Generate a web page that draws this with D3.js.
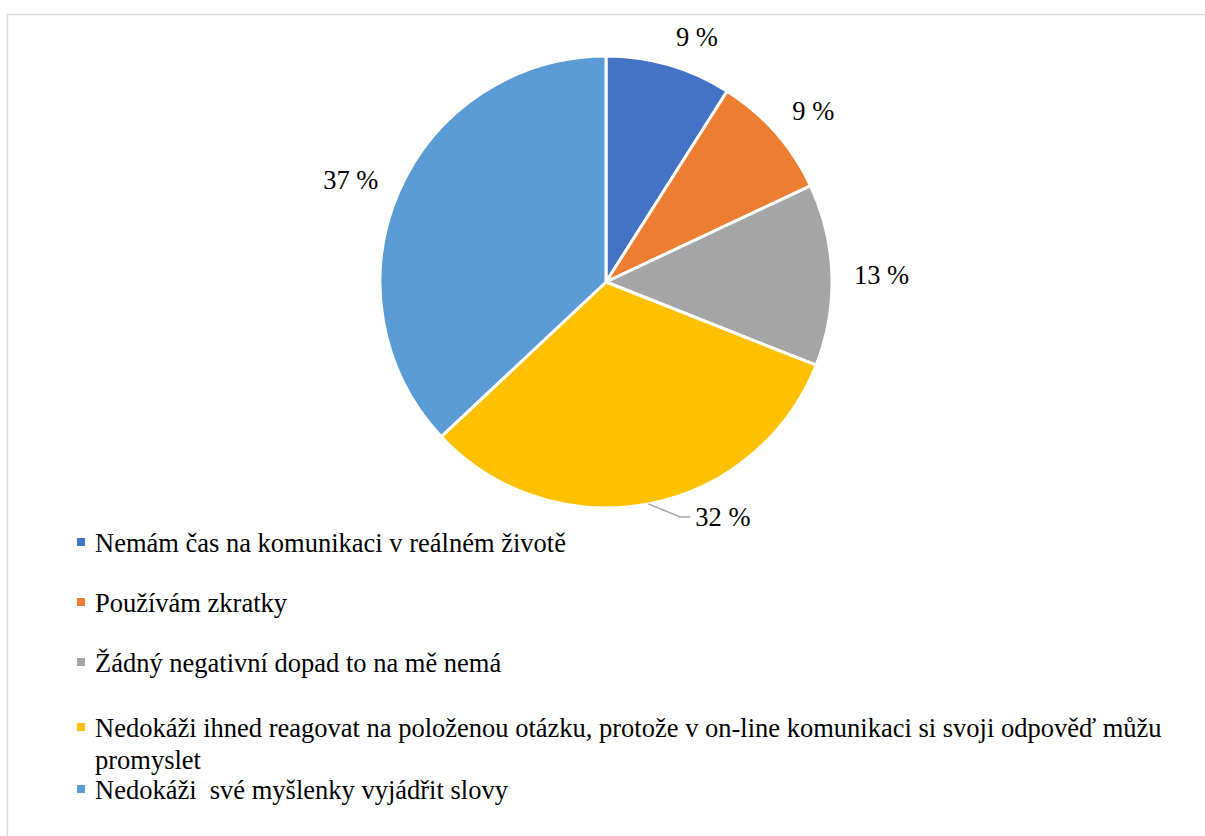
<!DOCTYPE html>
<html><head><meta charset="utf-8">
<script src="https://cdn.jsdelivr.net/npm/d3@7"></script>
<style>
html,body{margin:0;padding:0;background:#fff;}
text{font-family:"Liberation Serif","Times New Roman",serif;fill:#000;}
</style></head>
<body>
<svg id="chart" width="1205" height="836"></svg>
<script>
const categories = [
  "Nemám čas na komunikaci v reálném životě",
  "Používám zkratky",
  "Žádný negativní dopad to na mě nemá",
  "Nedokáži ihned reagovat na položenou otázku, protože v on-line komunikaci si svoji odpověď můžu promyslet",
  "Nedokáži  své myšlenky vyjádřit slovy"
];
const values = [9, 9, 13, 32, 37];
const valueLabels = ["9 %", "9 %", "13 %", "32 %", "37 %"];
const colors = ["#4472C4", "#ED7D31", "#A5A5A5", "#FFC000", "#5B9BD5"];

const svg = d3.select("#chart");
const cx = 606, cy = 282, R = 226, labelR = 247;
const fontSize = 26.5;

// outer frame
svg.append("rect").attr("x", 7.5).attr("y", 14.5).attr("width", 1300).attr("height", 900)
  .attr("fill", "none").attr("stroke", "#d9d9d9").attr("stroke-width", 1.5);

const pie = d3.pie().sort(null).value(d => d)(values);
const arc = d3.arc().innerRadius(0).outerRadius(R);
const g = svg.append("g").attr("transform", `translate(${cx},${cy})`);

g.selectAll("path.slice").data(pie).join("path")
  .attr("class", "slice")
  .attr("d", arc)
  .attr("fill", (d, i) => colors[i])
  .attr("stroke", "#fff").attr("stroke-width", 3).attr("stroke-linejoin", "round");

// data labels
pie.forEach((d, i) => {
  const a = (d.startAngle + d.endAngle) / 2;
  const sx = Math.sin(a), sy = -Math.cos(a);
  if (i === 3) {
    const p0 = [R * sx, R * sy];
    const p1 = [p0[0] + 32, p0[1] + 13];
    const p2 = [p0[0] + 42, p0[1] + 13];
    g.append("polyline").attr("points", [p0, p1, p2].map(p => p.join(",")).join(" "))
      .attr("fill", "none").attr("stroke", "#a6a6a6").attr("stroke-width", 1.5);
    g.append("text").attr("x", p0[0] + 47).attr("y", p0[1] + 22)
      .attr("font-size", fontSize).text(valueLabels[i]);
  } else {
    const px = labelR * sx, py = labelR * sy;
    const k = Math.max(-1, Math.min(1, -1.5 * sy));
    const centerY = py - 9 * k + 1.5;
    g.append("text")
      .attr("x", px + (sx >= 0 ? 1 : -1))
      .attr("y", centerY + 9)
      .attr("text-anchor", sx >= 0 ? "start" : "end")
      .attr("font-size", fontSize).text(valueLabels[i]);
  }
});

// legend
const legendX = 77, textX = 95, maxW = 1090;
const rowY = [552, 612, 672, 737, 799];
const lineH = 32;
const leg = svg.append("g");
categories.forEach((c, i) => {
  const y = rowY[i];
  leg.append("rect").attr("x", legendX).attr("y", y - 14).attr("width", 8).attr("height", 8)
    .attr("fill", colors[i]);
  const t = leg.append("text").attr("x", textX).attr("y", y).attr("font-size", fontSize)
    .style("white-space", "pre");
  const words = c.split(" ");
  let line = [], lines = [];
  const tmp = leg.append("text").attr("font-size", fontSize).style("white-space", "pre");
  words.forEach(w => {
    const test = line.concat([w]).join(" ");
    tmp.text(test);
    if (tmp.node().getComputedTextLength() > maxW && line.length) {
      lines.push(line.join(" ")); line = [w];
    } else line.push(w);
  });
  lines.push(line.join(" "));
  tmp.remove();
  lines.forEach((l, k) => {
    t.append("tspan").attr("x", textX).attr("y", y + k * lineH).text(l);
  });
});
</script>
</body></html>
